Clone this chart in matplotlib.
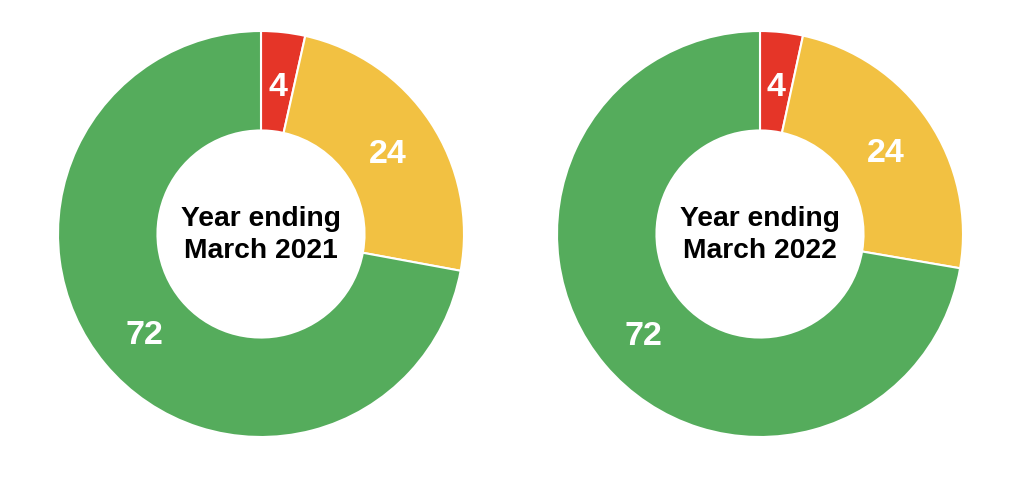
import matplotlib.pyplot as plt

# shares of each year, labels as printed
years = ['Year ending\nMarch 2021', 'Year ending\nMarch 2022']
shares_2021 = [3.5, 24.4, 72.1]
shares_2022 = [3.4, 24.3, 72.3]
labels_2021 = ['4', '24', '72']
labels_2022 = ['4', '24', '72']
colors = ['#e53528', '#f2c142', '#55ac5c']

plt.rcParams['font.family'] = ['Liberation Sans', 'DejaVu Sans']

fig = plt.figure(figsize=(10.24, 4.81), dpi=100)
W, H = 1024, 481
R = 203  # outer radius in pixels


def donut(cx, cy, shares, labels, title):
    ax = fig.add_axes([(cx - R) / W, 1 - (cy + R) / H, 2 * R / W, 2 * R / H])
    ax.pie(shares, labels=labels, colors=colors, startangle=90, counterclock=False,
           radius=1, labeldistance=0.75,
           wedgeprops=dict(width=0.49, edgecolor='white', linewidth=1.5),
           textprops=dict(color='white', fontsize=24.5, fontweight='bold',
                          ha='center', va='center_baseline'))
    ax.set_xlim(-1, 1)
    ax.set_ylim(-1, 1)
    ax.text(0, 0, title, ha='center', va='center', fontsize=20.3,
            fontweight='bold', color='black', linespacing=1.25)


donut(261, 235, shares_2021, labels_2021, years[0])
donut(760, 235, shares_2022, labels_2022, years[1])

fig.savefig('out.png', dpi=100, facecolor='white')
